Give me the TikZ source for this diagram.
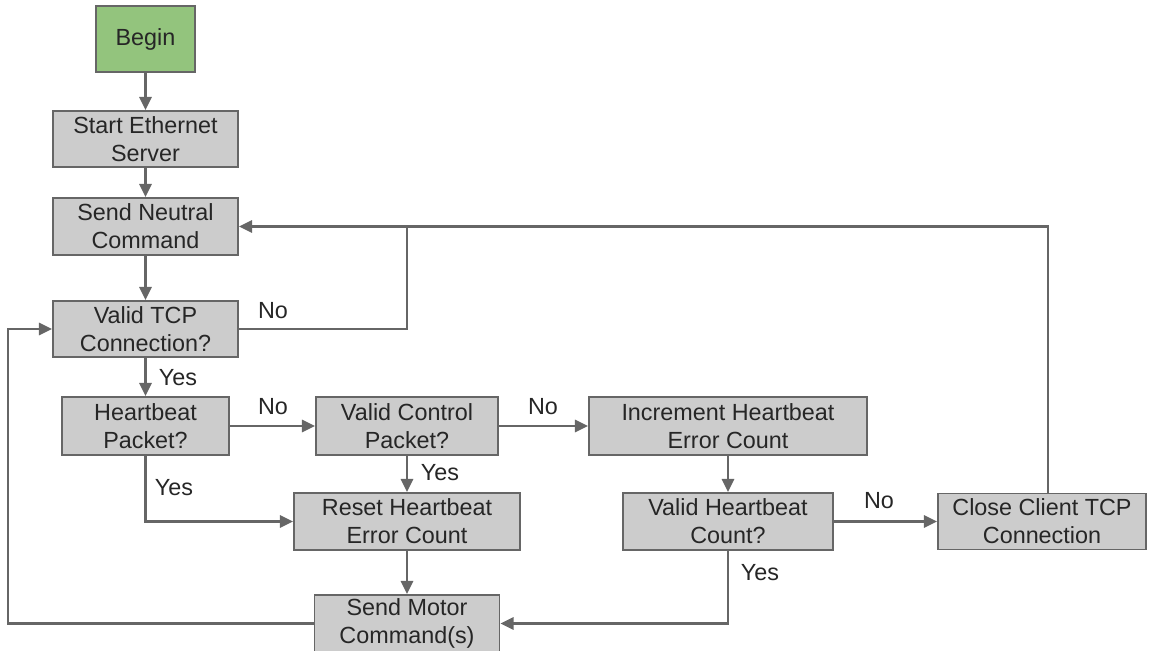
\documentclass[tikz,border=0pt]{standalone}
\usepackage{xcolor}
\usepackage{fontspec}
\setmainfont{Liberation Sans}
\usetikzlibrary{arrows.meta,positioning}

\definecolor{boxgray}{HTML}{CCCCCC}
\definecolor{linegray}{HTML}{666666}
\definecolor{begingreen}{HTML}{93C47D}

\begin{document}
\begin{tikzpicture}[x=0.02cm, y=-0.02cm,
    font=\fontsize{13.3}{15.9}\selectfont, text=black!85,
    >={Triangle[length=7.5pt,width=7pt]},
    box/.style={draw=linegray, line width=1.1pt, fill=boxgray, rectangle, align=center, inner sep=0pt},
    flow/.style={->, draw=linegray, line width=1.25pt},
    lbl/.style={inner sep=0pt}]
    \useasboundingbox (0,0) rectangle (1150,650);

    % main column
    \node[box, fill=begingreen, minimum width=1.98cm, minimum height=1.32cm] (begin) at (145.5,39) {Begin};
    \node[box, minimum width=3.7cm, minimum height=1.12cm] (start) at (145.5,139) {Start Ethernet\\Server};
    \node[box, minimum width=3.7cm, minimum height=1.14cm] (neutral) at (145.5,226.5) {Send Neutral\\Command};
    \node[box, minimum width=3.7cm, minimum height=1.12cm] (tcp) at (145.5,329) {Valid TCP\\Connection?};
    \node[box, minimum width=3.34cm, minimum height=1.16cm] (heart) at (145.5,426) {Heartbeat\\Packet?};

    % packet checks
    \node[box, minimum width=3.64cm, minimum height=1.16cm] (control) at (407,426) {Valid Control\\Packet?};
    \node[box, minimum width=5.56cm, minimum height=1.16cm] (incr) at (728,426) {Increment Heartbeat\\Error Count};
    \node[box, minimum width=4.52cm, minimum height=1.14cm] (reset) at (407,521.5) {Reset Heartbeat\\Error Count};
    \node[box, minimum width=4.2cm, minimum height=1.14cm] (vhb) at (728,521.5) {Valid Heartbeat\\Count?};
    \node[box, minimum width=4.16cm, minimum height=1.12cm] (close) at (1042,521.5) {Close Client TCP\\Connection};
    \node[box, minimum width=3.7cm, minimum height=1.14cm] (motor) at (407,623.5) {Send Motor\\Command(s)};

    % turning points
    \coordinate (tcpret) at (407,226.5);
    \coordinate (closeup) at (1048,226.5);
    \coordinate (loopleft) at (8,329);

    \draw[flow] (begin) -- (start);
    \draw[flow] (start) -- (neutral);
    \draw[flow] (neutral) -- (tcp);
    \draw[flow] (tcp.east) -| (tcpret) -- (neutral.east);
    \draw[draw=linegray, line width=1.25pt] (close.north -| closeup) -- (closeup) -- (tcpret);
    \draw[flow] (tcp) -- (heart);
    \draw[flow] (heart) -- (control);
    \draw[flow] (heart.south) |- (reset.west);
    \draw[flow] (control) -- (incr);
    \draw[flow] (control) -- (reset);
    \draw[flow] (incr) -- (vhb);
    \draw[flow] (vhb) -- (close);
    \draw[flow] (vhb.south) |- (motor.east);
    \draw[flow] (reset) -- (motor);
    \draw[flow] (motor.west) -| (loopleft) -- (tcp.west);

    % labels
    \node[lbl] (tcpno) at (273,311) {No};
    \node[lbl] (tcpyes) at (178,378) {Yes};
    \node[lbl] (heartno) at (273,407) {No};
    \node[lbl] (heartyes) at (174,488) {Yes};
    \node[lbl] (controlno) at (543,407) {No};
    \node[lbl] (controlyes) at (440,473) {Yes};
    \node[lbl] (vhbno) at (879,501) {No};
    \node[lbl] (vhbyes) at (760,573) {Yes};
\end{tikzpicture}
\end{document}
